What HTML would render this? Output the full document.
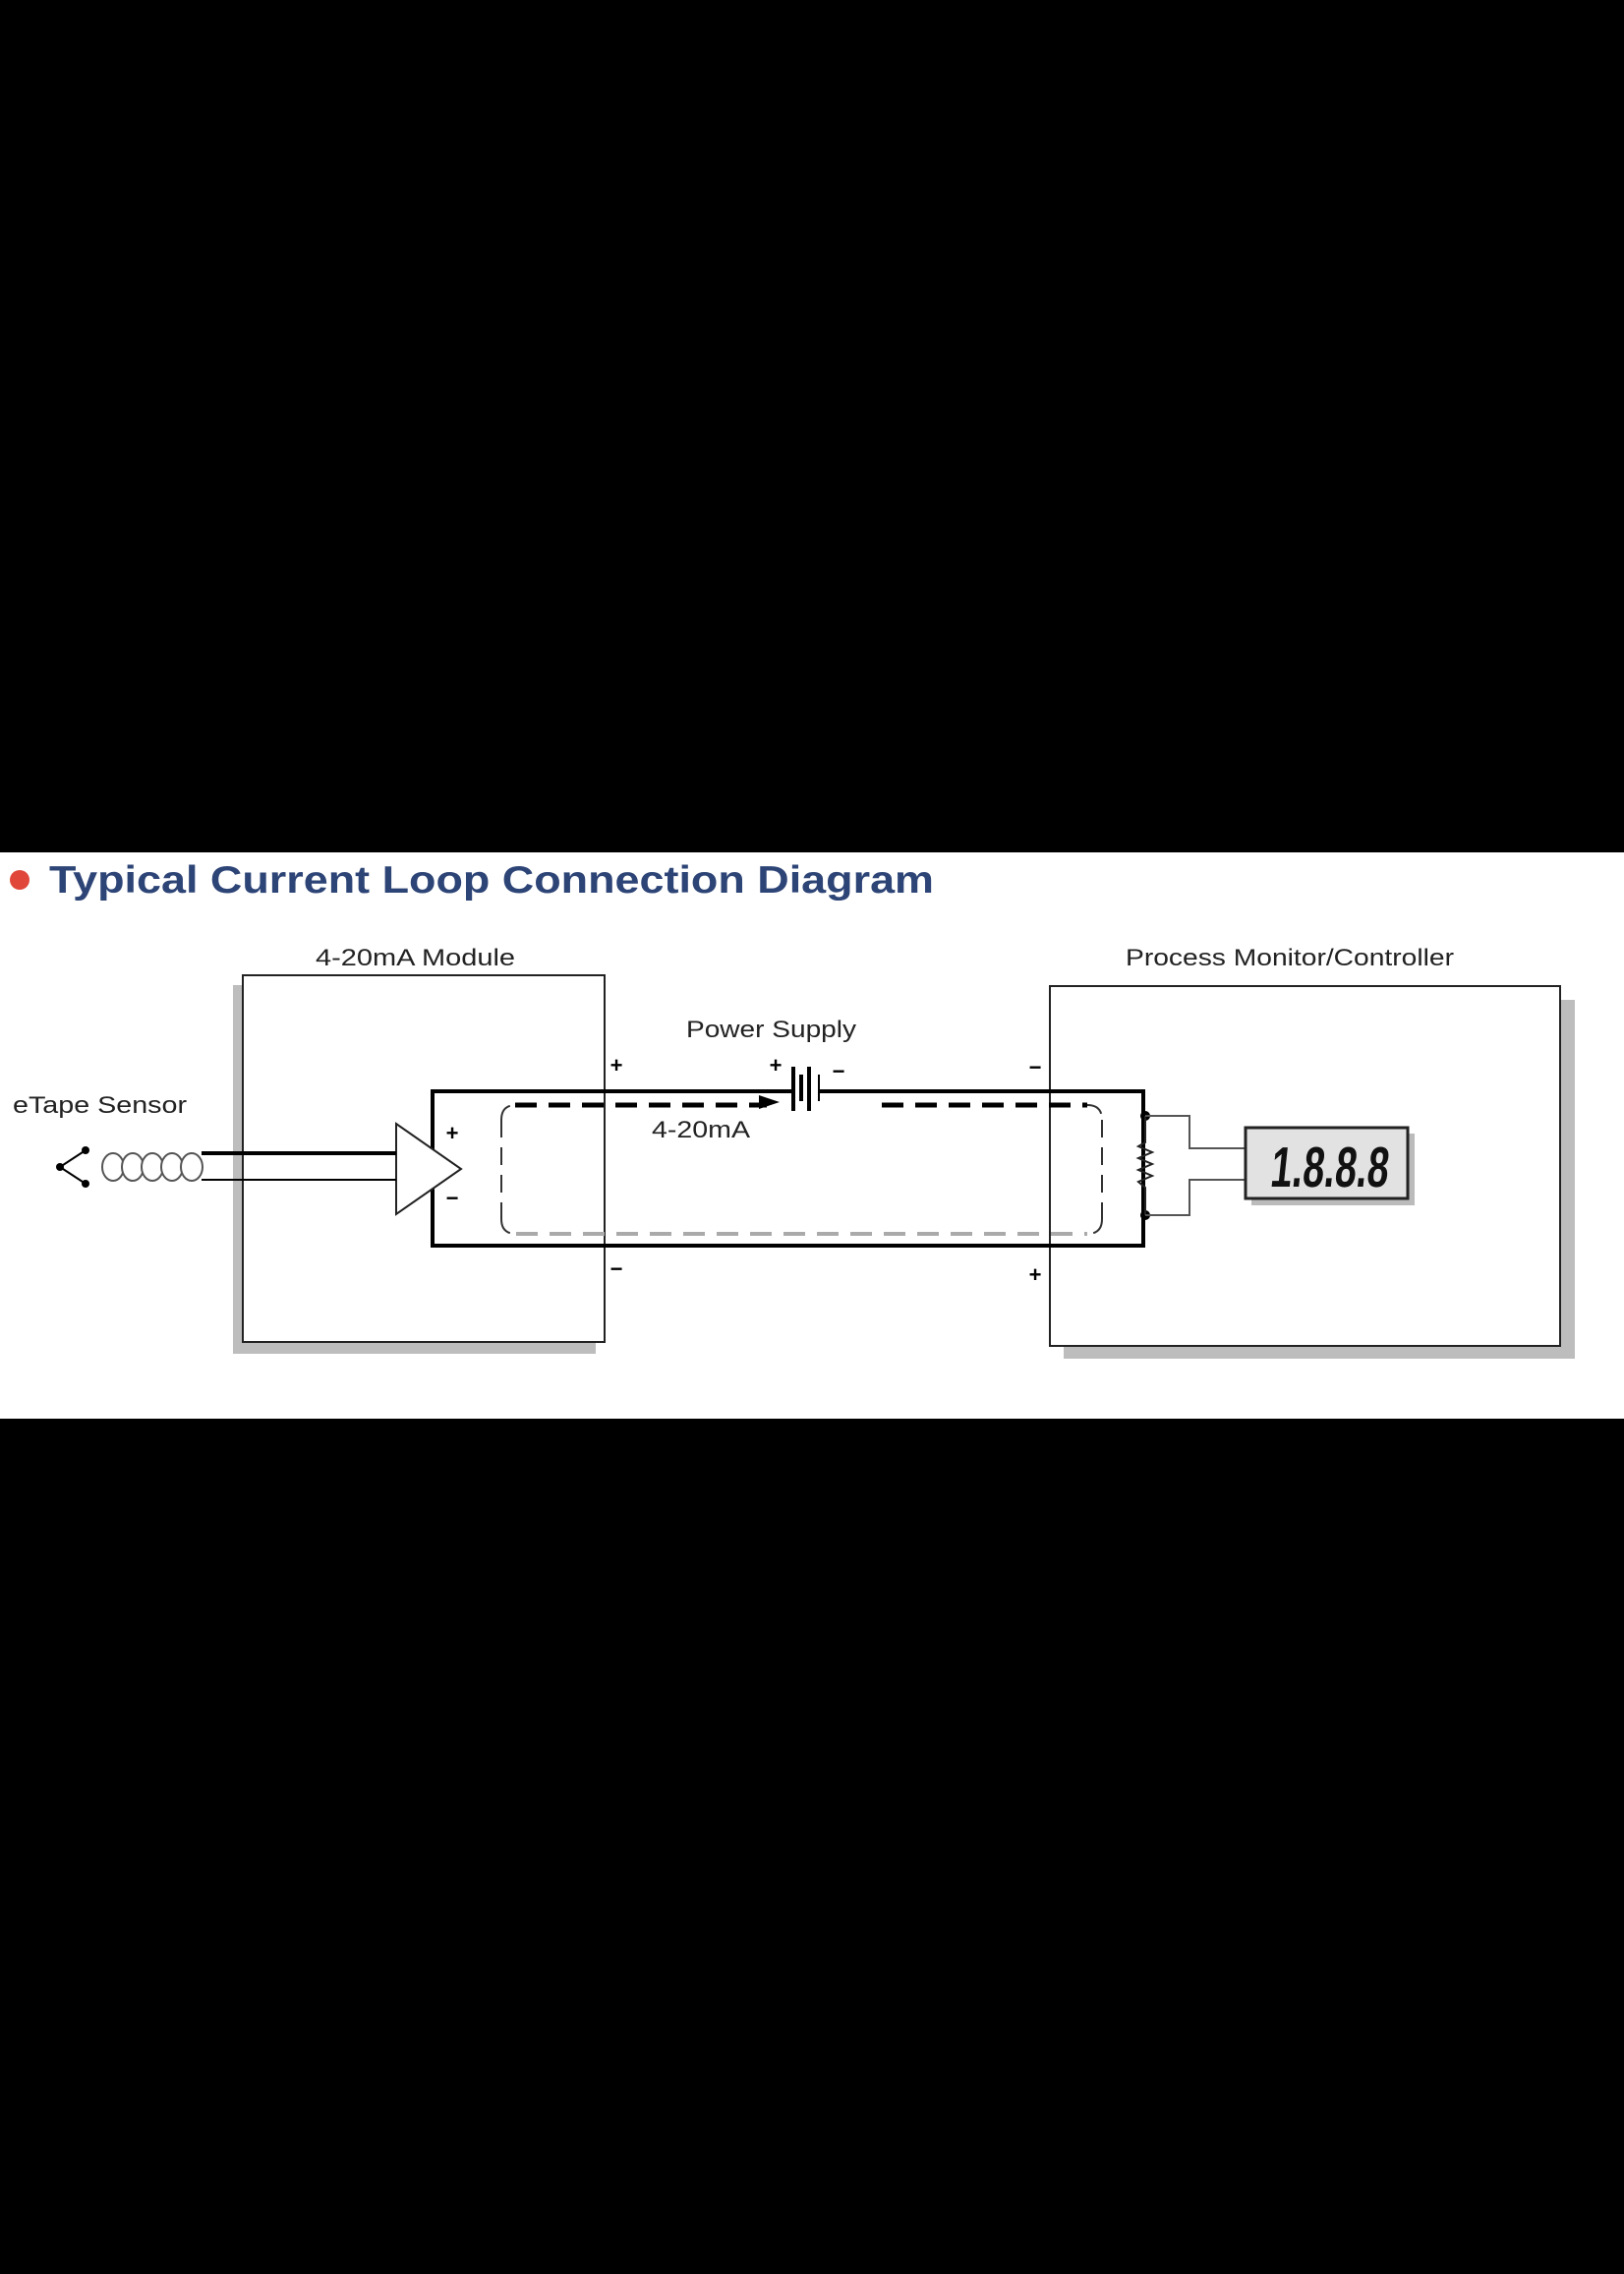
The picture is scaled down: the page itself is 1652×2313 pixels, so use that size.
<!DOCTYPE html>
<html><head><meta charset="utf-8"><style>html,body{margin:0;padding:0;background:#000}svg{display:block}</style></head>
<body>
<svg width="1652" height="2313" viewBox="0 0 1652 2313" xmlns="http://www.w3.org/2000/svg" font-family="Liberation Sans, sans-serif">
<rect width="1652" height="2313" fill="#000"/>
<rect x="0" y="867" width="1652" height="576" fill="#fff"/>
<circle cx="20" cy="895" r="10" fill="#e0463a"/>
<text x="50" y="908" font-size="39" font-weight="bold" fill="#2d4476" textLength="900" lengthAdjust="spacingAndGlyphs">Typical Current Loop Connection Diagram</text>

<!-- left box -->
<rect x="237" y="1002" width="369" height="375" fill="#bdbdbd"/>
<rect x="247" y="992" width="368" height="373" fill="#fff" stroke="#222" stroke-width="2"/>
<text x="321" y="982" font-size="24" fill="#222" textLength="203" lengthAdjust="spacingAndGlyphs">4-20mA Module</text>
<!-- right box -->
<rect x="1082" y="1017" width="520" height="365" fill="#bdbdbd"/>
<rect x="1068" y="1003" width="519" height="366" fill="#fff" stroke="#222" stroke-width="2"/>
<text x="1145" y="982" font-size="24" fill="#222" textLength="334" lengthAdjust="spacingAndGlyphs">Process Monitor/Controller</text>

<text x="13" y="1132" font-size="24" fill="#222" textLength="177" lengthAdjust="spacingAndGlyphs">eTape Sensor</text>
<text x="698" y="1055" font-size="24" fill="#222" textLength="173" lengthAdjust="spacingAndGlyphs">Power Supply</text>
<text x="663" y="1157" font-size="24" fill="#222" textLength="100" lengthAdjust="spacingAndGlyphs">4-20mA</text>

<!-- loop -->
<g stroke="#000" stroke-width="4" fill="none">
<polyline points="807,1110 440,1110 440,1267 1163,1267 1163,1110 833,1110"/>
</g>
<g stroke="#000" fill="none">
<line x1="807" y1="1085" x2="807" y2="1130" stroke-width="4"/>
<line x1="815" y1="1093" x2="815" y2="1120" stroke-width="4"/>
<line x1="823" y1="1085" x2="823" y2="1130" stroke-width="4"/>
<line x1="833" y1="1093" x2="833" y2="1120" stroke-width="2"/>
</g>
<g font-size="22" font-weight="bold" fill="#000" text-anchor="middle">
<text x="627" y="1091">+</text><text x="627" y="1298">−</text>
<text x="789" y="1091">+</text><text x="853" y="1097">−</text>
<text x="1053" y="1093">−</text><text x="1053" y="1304">+</text>
<text x="460" y="1160">+</text><text x="460" y="1226">−</text>
</g>
<!-- dashed inner loop -->
<path d="M524,1124 L780,1124" stroke="#000" stroke-width="5" stroke-dasharray="22,12" fill="none"/>
<polygon points="793,1121 772,1114 772,1128" fill="#000"/>
<path d="M897,1124 L1106,1124" stroke="#000" stroke-width="5" stroke-dasharray="22,12" fill="none"/>
<path d="M1121,1139 L1121,1240 M510,1139 L510,1240 M1106,1124 Q1121,1124 1121,1139 M510,1139 Q510,1124 525,1124 M1121,1240 Q1121,1255 1106,1255 M510,1240 Q510,1255 525,1255" stroke="#333" stroke-width="2" stroke-dasharray="18,10" fill="none"/>
<path d="M525,1255 L1106,1255" stroke="#aaa" stroke-width="4" stroke-dasharray="22,12" fill="none"/>

<!-- amplifier -->
<polygon points="403,1143 469,1189 403,1235" fill="#fff" stroke="#222" stroke-width="2"/>
<!-- sensor cable -->
<line x1="205" y1="1173" x2="403" y2="1173" stroke="#000" stroke-width="4"/>
<line x1="205" y1="1200" x2="403" y2="1200" stroke="#000" stroke-width="2"/>
<g stroke="#555" stroke-width="2" fill="#fff">
<ellipse cx="115" cy="1187" rx="11" ry="14"/><ellipse cx="135" cy="1187" rx="11" ry="14"/>
<ellipse cx="155" cy="1187" rx="11" ry="14"/><ellipse cx="175" cy="1187" rx="11" ry="14"/>
<ellipse cx="195" cy="1187" rx="11" ry="14"/>
</g>
<polyline points="87,1170 61,1187 87,1204" stroke="#000" stroke-width="2" fill="none"/>
<circle cx="61" cy="1187" r="4" fill="#000"/><circle cx="87" cy="1170" r="4" fill="#000"/><circle cx="87" cy="1204" r="4" fill="#000"/>

<!-- resistor & display -->
<circle cx="1165" cy="1135" r="5" fill="#000"/><circle cx="1165" cy="1236" r="5" fill="#000"/>
<polyline points="1165,1135 1165,1162 1158,1166 1172,1172 1158,1178 1172,1184 1158,1190 1172,1196 1158,1202 1165,1208 1165,1236" stroke="#222" stroke-width="2" fill="none"/>
<polyline points="1165,1135 1210,1135 1210,1168 1267,1168" stroke="#555" stroke-width="2" fill="none"/>
<polyline points="1165,1236 1210,1236 1210,1200 1267,1200" stroke="#555" stroke-width="2" fill="none"/>
<rect x="1273" y="1153" width="166" height="73" fill="#bbb"/>
<rect x="1267" y="1147" width="165" height="72" fill="#e2e2e2" stroke="#222" stroke-width="3"/>
<text x="1292" y="1207" font-size="58" font-weight="bold" fill="#111" textLength="120" lengthAdjust="spacingAndGlyphs" transform="skewX(-6) translate(126,0)">1.8.8.8</text>
</svg>
</body></html>
